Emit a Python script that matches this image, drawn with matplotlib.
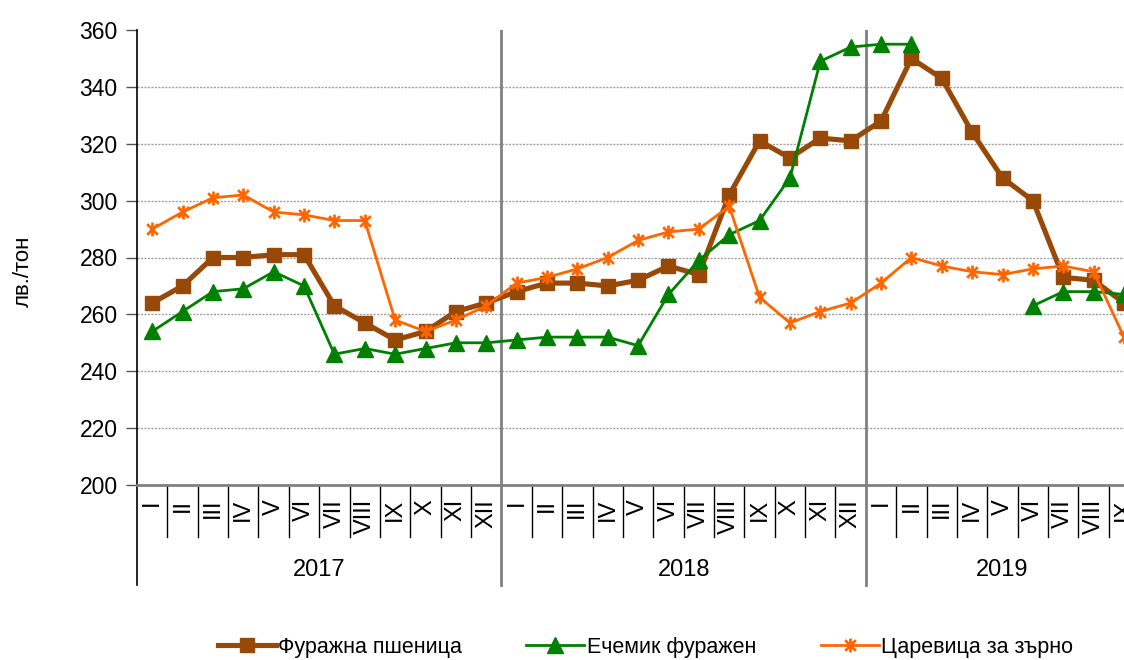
import matplotlib
matplotlib.use("Agg")
import matplotlib.pyplot as plt
from matplotlib.path import Path
import numpy as np

plt.rcParams['font.family'] = ['Liberation Sans', 'DejaVu Sans']

years = ['2017', '2018', '2019']
months_per_year = [12, 12, 9]
month_labels = ['I', 'II', 'III', 'IV', 'V', 'VI', 'VII', 'VIII', 'IX', 'X', 'XI', 'XII']

wheat = [264, 270, 280, 280, 281, 281, 263, 257, 251, 254, 261, 264,
         268, 271, 271, 270, 272, 277, 274, 302, 321, 315, 322, 321,
         328, 350, 343, 324, 308, 300, 273, 272, 264]
barley = [254, 261, 268, 269, 275, 270, 246, 248, 246, 248, 250, 250,
          251, 252, 252, 252, 249, 267, 279, 288, 293, 308, 349, 354,
          355, 355, None, None, None, 263, 268, 268, 267]
corn = [290, 296, 301, 302, 296, 295, 293, 293, 258, 254, 258, 263,
        271, 273, 276, 280, 286, 289, 290, 298, 266, 257, 261, 264,
        271, 280, 277, 275, 274, 276, 277, 275, 252]

series_names = ['Фуражна пшеница', 'Ечемик фуражен', 'Царевица за зърно']

cats = []
for y, n in zip(years, months_per_year):
    cats += month_labels[:n]
x = np.arange(len(cats))

def arr(v):
    return np.array([np.nan if a is None else a for a in v], dtype=float)

W, H = 1124, 660
fig = plt.figure(figsize=(W / 100, H / 100), dpi=100)
ax = fig.add_axes([137 / W, 1 - 485 / H, 1 - 137 / W, (485 - 30) / H])

fs = 16

# gridlines
for g in range(220, 360, 20):
    ax.axhline(g, color='#a0a0a0', lw=1.0, ls=(0, (1.5, 1)), zorder=1)

# year separators inside plot
bounds = np.cumsum(months_per_year)[:-1] - 0.5
for b in bounds:
    ax.axvline(b, color='#808080', lw=2, zorder=1)

star = Path([(-1, -1), (1, 1), (-1, 1), (1, -1), (0, -1.3), (0, 1.3)],
            [Path.MOVETO, Path.LINETO, Path.MOVETO, Path.LINETO, Path.MOVETO, Path.LINETO])

ax.plot(x, arr(wheat), color='#984807', lw=3.7, marker='s', ms=9.5, zorder=3,
        label=series_names[0])
ax.plot(x, arr(barley), color='#008000', lw=2, marker='^', ms=11, zorder=4,
        label=series_names[1])
ax.plot(x, arr(corn), color='#FF6600', lw=2, marker=star, ms=10, mew=2, zorder=5,
        label=series_names[2])

ax.set_xlim(-0.5, 32.0)
ax.set_ylim(200, 360)
ax.set_yticks(range(200, 361, 20))
ax.tick_params(axis='y', length=8, width=1, color='#555555', labelsize=fs + 0.5, pad=6)
ax.set_xticks([])
for s in ['top', 'right']:
    ax.spines[s].set_visible(False)
ax.spines['left'].set_color('black')
ax.spines['left'].set_linewidth(1.2)
ax.spines['bottom'].set_color('#808080')
ax.spines['bottom'].set_linewidth(2)

ax.set_ylabel('лв./тон', fontsize=fs)
ax.yaxis.set_label_coords(-0.104, 0.47)

tr = ax.get_xaxis_transform()
ax_h = 455.0
def yfrac(py):
    return (485 - py) / ax_h

# category labels
for i, c in enumerate(cats):
    ax.text(i, yfrac(499), c, rotation=90, ha='center', va='top', fontsize=fs + 1,
            transform=tr, clip_on=False)

# minor separators
for i in range(len(cats)):
    b = i + 0.5
    if b in bounds:
        continue
    ax.plot([b, b], [0, yfrac(537)], color='black', lw=1, transform=tr, clip_on=False)

# year separators & outer
for b in [-0.5] + list(bounds):
    ax.plot([b, b], [0, yfrac(585)], color='#808080' if b != -0.5 else 'black',
            lw=2 if b != -0.5 else 1.2, transform=tr, clip_on=False)

starts = np.concatenate([[0], np.cumsum(months_per_year)[:-1]])
for yname, st, n in zip(years, starts, months_per_year):
    ax.text(st + n / 2 - 0.5, yfrac(570), yname, ha='center', va='center', fontsize=fs + 1,
            transform=tr, clip_on=False)

leg = fig.legend(loc='center', bbox_to_anchor=(0.574, 1 - 647 / H), ncol=3, frameon=False,
                 fontsize=fs - 0.5, handlelength=2.7, columnspacing=3.0, handletextpad=0.1)

fig.savefig('out.png', dpi=100)
